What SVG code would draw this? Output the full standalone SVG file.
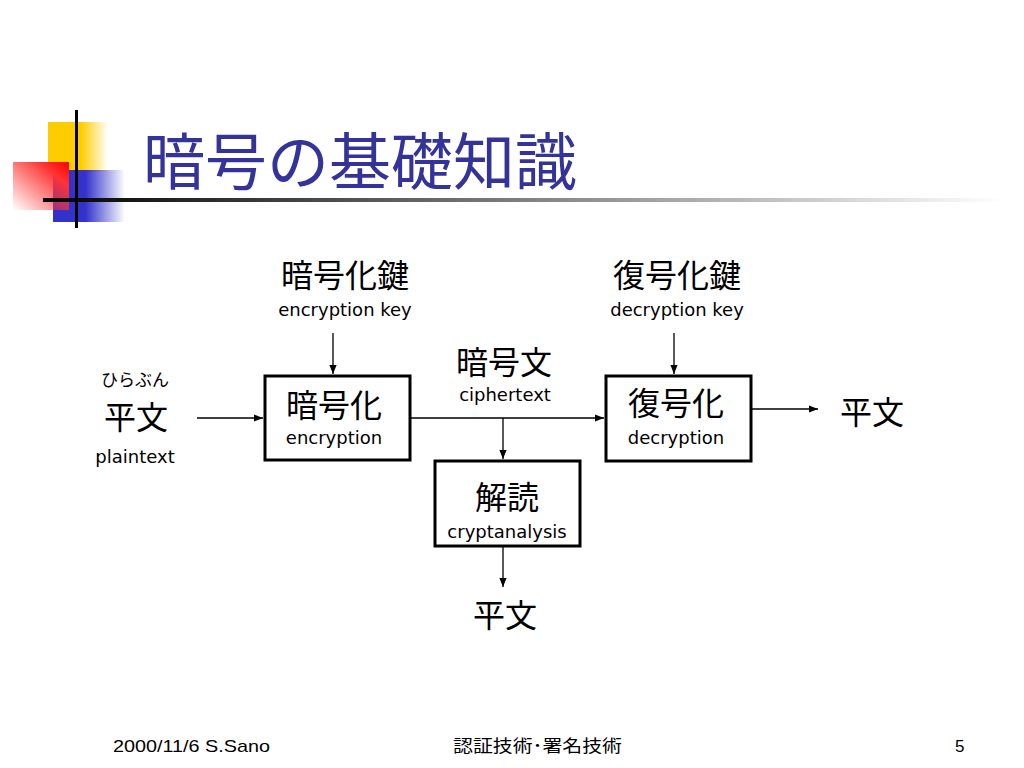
<svg xmlns="http://www.w3.org/2000/svg" width="1024" height="768" viewBox="0 0 1024 768">
<defs>
<linearGradient id="gY" x1="0" y1="0" x2="1" y2="0"><stop offset="0" stop-color="#FFCC00"/><stop offset="0.55" stop-color="#FFCC00"/><stop offset="1" stop-color="#FFCC00" stop-opacity="0"/></linearGradient>
<linearGradient id="gR" x1="1" y1="0" x2="0" y2="1"><stop offset="0" stop-color="#FF0000"/><stop offset="0.25" stop-color="#FF3333"/><stop offset="1" stop-color="#FF3333" stop-opacity="0"/></linearGradient>
<linearGradient id="gB" x1="0" y1="0" x2="1" y2="0"><stop offset="0" stop-color="#3333CC"/><stop offset="0.45" stop-color="#3333CC"/><stop offset="1" stop-color="#3333CC" stop-opacity="0"/></linearGradient>
<linearGradient id="gL" x1="0" y1="0" x2="1" y2="0"><stop offset="0" stop-color="#000000"/><stop offset="0.2" stop-color="#333333"/><stop offset="1" stop-color="#FFFFFF"/></linearGradient>
<marker id="ah" viewBox="0 0 10 10" refX="10" refY="5" markerWidth="9" markerHeight="9" markerUnits="userSpaceOnUse" orient="auto"><path d="M0,1 L10,5 L0,9 z" fill="#000"/></marker>
</defs>
<style>
.jp{font-family:"Noto Sans CJK JP","Noto Sans CJK SC",sans-serif;fill:#000;text-anchor:middle}
.en{font-family:"DejaVu Sans",Verdana,sans-serif;font-size:18px;fill:#000;text-anchor:middle}
.box{fill:#fff;stroke:#000;stroke-width:3}
.ln{stroke:#000;stroke-width:1.3;fill:none}
.ft{font-family:"Liberation Sans","Noto Sans CJK JP",sans-serif;font-size:17px;fill:#000}
</style>
<rect width="1024" height="768" fill="#fff"/>
<g id="title-deco">
<rect x="48" y="122" width="60" height="50" fill="url(#gY)"/>
<rect x="53" y="170" width="72" height="52" fill="url(#gB)"/>
<rect x="13" y="162" width="56" height="48" fill="url(#gR)"/>
<rect x="43" y="198" width="960" height="4" fill="url(#gL)"/>
<rect x="75" y="110" width="3" height="118" fill="#000"/>
</g>
<g id="title"><text x="143" y="185" font-family="Noto Sans CJK JP, sans-serif" font-size="62" fill="#333399">暗号の基礎知識</text></g>
<g id="connectors">
<line class="ln" x1="333" y1="333" x2="333" y2="374" marker-end="url(#ah)"/>
<line class="ln" x1="674" y1="333" x2="674" y2="374" marker-end="url(#ah)"/>
<line class="ln" x1="197" y1="418" x2="263" y2="418" marker-end="url(#ah)"/>
<line class="ln" x1="411" y1="418" x2="604" y2="418" marker-end="url(#ah)"/>
<line class="ln" x1="503" y1="418" x2="503" y2="459" marker-end="url(#ah)"/>
<line class="ln" x1="503" y1="547" x2="503" y2="587" marker-end="url(#ah)"/>
<line class="ln" x1="752" y1="409" x2="818" y2="409" marker-end="url(#ah)"/>
</g>
<g id="enc-key"><text class="jp" x="345" y="287" font-size="32">暗号化鍵</text><text class="en" x="345" y="316">encryption key</text></g>
<g id="dec-key"><text class="jp" x="677" y="287" font-size="32">復号化鍵</text><text class="en" x="677" y="316">decryption key</text></g>
<g id="plaintext-in"><text class="jp" x="135" y="386" font-size="17">ひらぶん</text><text class="jp" x="136" y="429" font-size="32">平文</text><text class="en" x="135" y="463">plaintext</text></g>
<g id="encryption"><rect class="box" x="265" y="376" width="145" height="84"/><text class="jp" x="334" y="417" font-size="32">暗号化</text><text class="en" x="334" y="444">encryption</text></g>
<g id="ciphertext"><text class="jp" x="504" y="374" font-size="32">暗号文</text><text class="en" x="505" y="401">ciphertext</text></g>
<g id="decryption"><rect class="box" x="606" y="376" width="145" height="85"/><text class="jp" x="676" y="415" font-size="32">復号化</text><text class="en" x="676" y="444">decryption</text></g>
<g id="cryptanalysis"><rect class="box" x="435" y="461" width="145" height="85"/><text class="jp" x="507" y="509" font-size="32">解読</text><text class="en" x="507" y="538">cryptanalysis</text></g>
<g id="plaintext-out"><text class="jp" x="872" y="424" font-size="32">平文</text></g>
<g id="plaintext-crack"><text class="jp" x="505" y="627" font-size="32">平文</text></g>
<g id="footer">
<text class="ft" x="113" y="752" textLength="157" lengthAdjust="spacingAndGlyphs">2000/11/6 S.Sano</text>
<text class="ft" x="453" y="752" textLength="169" lengthAdjust="spacingAndGlyphs">認証技術･署名技術</text>
<text class="ft" x="955" y="752">5</text>
</g>
</svg>
